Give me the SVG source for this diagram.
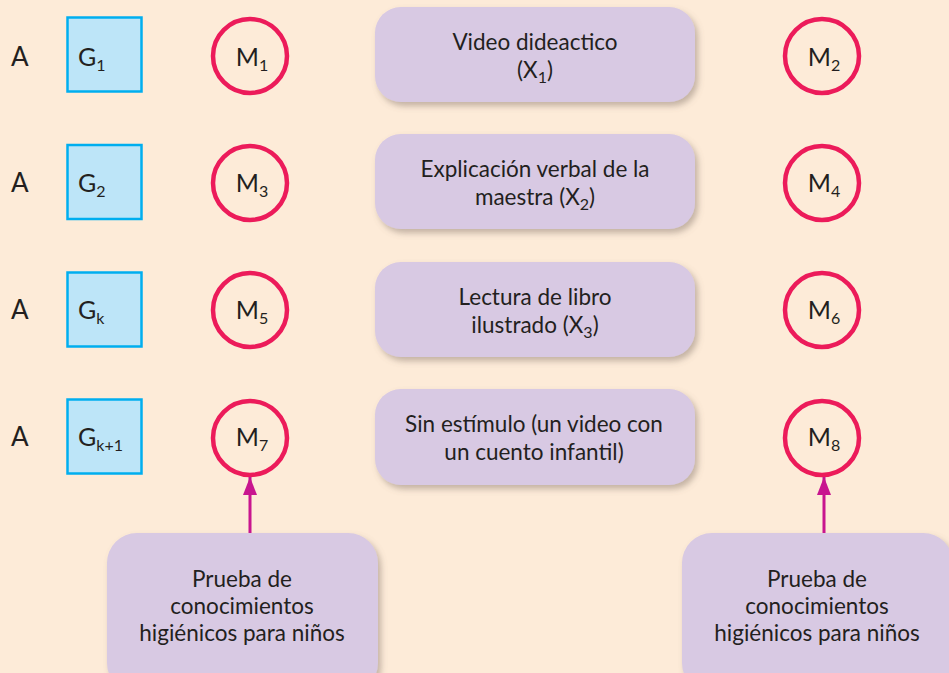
<svg xmlns="http://www.w3.org/2000/svg" width="949" height="673" viewBox="0 0 949 673">
<defs>
<filter id="sh" x="-10%" y="-10%" width="130%" height="140%"><feDropShadow dx="3" dy="4" stdDeviation="3" flood-color="#7a6a60" flood-opacity="0.45"/></filter>
<marker id="ah" viewBox="0 0 18 14" refX="18" refY="7" markerWidth="18" markerHeight="14" markerUnits="userSpaceOnUse" orient="auto"><path d="M0,0 L18,7 L0,14 Z" fill="#C8158F"/></marker>
<style>
text{font-family:Lato,"Liberation Sans",sans-serif;fill:#231f20;}
.a{font-size:26px;}
.sq{fill:#BDE5F8;stroke:#00AEEF;stroke-width:2.5;}
.ci{fill:none;stroke:#EC1B5A;stroke-width:4.5;}
.lab{font-size:25px;text-anchor:middle;}
.gl{font-size:25px;}
.bx{fill:#D8C9E3;filter:url(#sh);}
.bt{font-size:22.5px;text-anchor:middle;}
.sub{font-size:16px;}
.cn{stroke:#C8158F;stroke-width:3;fill:none;}
</style>
</defs>
<rect width="949" height="673" fill="#FDEBD8"/>
<g id="row1">
<text class="a" x="11" y="66">A</text>
<g id="G1"><rect class="sq" x="67.5" y="17.5" width="74" height="74"/><text class="gl" x="78" y="66">G<tspan class="sub" dy="5">1</tspan></text></g>
<g id="M1"><circle class="ci" cx="250" cy="56" r="37"/><text class="lab" x="252" y="66">M<tspan class="sub" dy="5">1</tspan></text></g>
<g id="X1"><rect class="bx" x="375" y="7" width="320" height="95" rx="26"/><text class="bt" x="535" y="50">Video dideactico</text><text class="bt" x="535" y="78">(X<tspan class="sub" dy="5">1</tspan><tspan dy="-5">)</tspan></text></g>
<g id="M2"><circle class="ci" cx="822" cy="56" r="37"/><text class="lab" x="824" y="66">M<tspan class="sub" dy="5">2</tspan></text></g>
</g>
<g id="row2">
<text class="a" x="11" y="192">A</text>
<g id="G2"><rect class="sq" x="67.5" y="145" width="74" height="74"/><text class="gl" x="78" y="192">G<tspan class="sub" dy="5">2</tspan></text></g>
<g id="M3"><circle class="ci" cx="250" cy="183" r="37"/><text class="lab" x="252" y="192">M<tspan class="sub" dy="5">3</tspan></text></g>
<g id="X2"><rect class="bx" x="375" y="134" width="320" height="95" rx="26"/><text class="bt" x="535" y="177">Explicación verbal de la</text><text class="bt" x="535" y="205">maestra (X<tspan class="sub" dy="5">2</tspan><tspan dy="-5">)</tspan></text></g>
<g id="M4"><circle class="ci" cx="822" cy="183" r="37"/><text class="lab" x="824" y="192">M<tspan class="sub" dy="5">4</tspan></text></g>
</g>
<g id="row3">
<text class="a" x="11" y="319">A</text>
<g id="Gk"><rect class="sq" x="67.5" y="272.5" width="74" height="74"/><text class="gl" x="78" y="319">G<tspan class="sub" dy="5">k</tspan></text></g>
<g id="M5"><circle class="ci" cx="250" cy="310" r="37"/><text class="lab" x="252" y="319">M<tspan class="sub" dy="5">5</tspan></text></g>
<g id="X3"><rect class="bx" x="375" y="262" width="320" height="95" rx="26"/><text class="bt" x="535" y="305">Lectura de libro</text><text class="bt" x="535" y="333">ilustrado (X<tspan class="sub" dy="5">3</tspan><tspan dy="-5">)</tspan></text></g>
<g id="M6"><circle class="ci" cx="822" cy="310" r="37"/><text class="lab" x="824" y="319">M<tspan class="sub" dy="5">6</tspan></text></g>
</g>
<g id="row4">
<text class="a" x="11" y="446">A</text>
<g id="Gk1"><rect class="sq" x="67.5" y="399.5" width="74" height="74"/><text class="gl" x="78" y="446">G<tspan class="sub" dy="5">k+1</tspan></text></g>
<g id="M7"><circle class="ci" cx="250" cy="438" r="37"/><text class="lab" x="252" y="446">M<tspan class="sub" dy="5">7</tspan></text></g>
<g id="X4"><rect class="bx" x="375" y="389" width="320" height="96" rx="26"/><text class="bt" x="534" y="432">Sin estímulo (un video con</text><text class="bt" x="534" y="460">un cuento infantil)</text></g>
<g id="M8"><circle class="ci" cx="822" cy="438" r="37"/><text class="lab" x="824" y="446">M<tspan class="sub" dy="5">8</tspan></text></g>
</g>
<g id="P1"><rect class="bx" x="107" y="533" width="271" height="160" rx="30"/><text class="bt" x="242" y="587">Prueba de</text><text class="bt" x="242" y="614">conocimientos</text><text class="bt" x="242" y="641">higiénicos para niños</text></g>
<g id="P2"><rect class="bx" x="682" y="533" width="271" height="160" rx="30"/><text class="bt" x="817" y="587">Prueba de</text><text class="bt" x="817" y="614">conocimientos</text><text class="bt" x="817" y="641">higiénicos para niños</text></g>
<g id="connectors">
<line class="cn" x1="250" y1="533" x2="250" y2="477" marker-end="url(#ah)"/>
<line class="cn" x1="824" y1="533" x2="824" y2="477" marker-end="url(#ah)"/>
</g>
</svg>
